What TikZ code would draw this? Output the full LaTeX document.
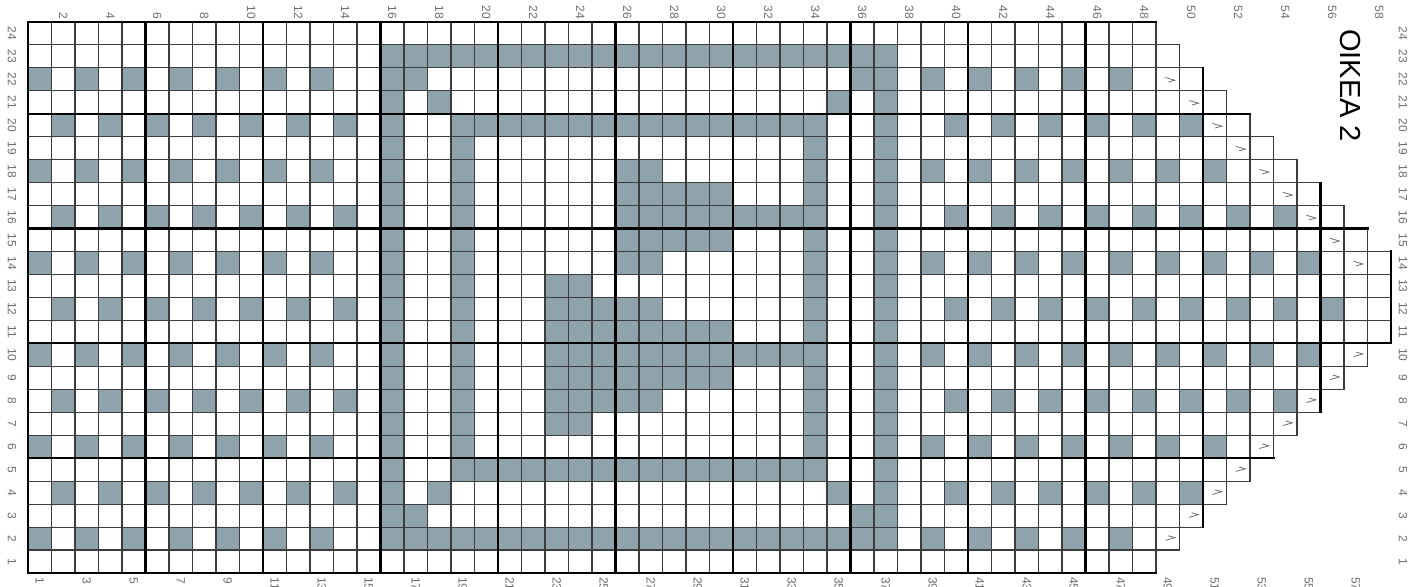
\documentclass[tikz,border=0pt]{standalone}
\usepackage{fontspec}
\setmainfont{Liberation Sans}
\usepackage{xcolor}
\usepackage{tikz}
\definecolor{knitGrey}{HTML}{8FA3AD}
\definecolor{knitLine}{HTML}{3C3C3C}
\definecolor{knitLabel}{HTML}{6E6E6E}

\begin{document}
\begin{tikzpicture}[x=11.75pt, y=11.48pt, font=\fontsize{6}{7}\selectfont,
  cell/.style={draw=knitLine,line width=0.55pt},
  knit/.style={fill=knitGrey},
  thickline/.style={line width=1.1pt,line cap=rect},
  lab/.style={text=knitLabel,inner sep=0pt,rotate=-90},
  decmark/.style={draw=knitLabel,line width=0.4pt}]
\useasboundingbox (-1.1915,-0.6098) rectangle (58.809,24.956);
\foreach \r in {2,6,...,22} \foreach \c in {1,3,...,13} \fill[knit] (\c-1,\r-1) rectangle (\c,\r);
\foreach \r in {4,8,...,20} \foreach \c in {2,4,...,14} \fill[knit] (\c-1,\r-1) rectangle (\c,\r);
\foreach \r/\e in {2/47,6/51,10/55,14/55,18/51,22/47}
  \foreach \c in {39,41,...,\e} \fill[knit] (\c-1,\r-1) rectangle (\c,\r);
\foreach \r/\e in {4/50,8/54,12/56,16/54,20/50}
  \foreach \c in {40,42,...,\e} \fill[knit] (\c-1,\r-1) rectangle (\c,\r);
\foreach \r/\cl in {23/{16,...,37}, 22/{16,17,36,37}, 21/{16,18,35,37},
    20/{16,19,20,...,34,37}, 19/{16,19,34,37}, 18/{16,19,26,27,34,37},
    17/{16,19,26,27,...,30,34,37}, 16/{16,19,26,27,...,34,37},
    15/{16,19,26,27,...,30,34,37}, 14/{16,19,26,27,34,37},
    13/{16,19,23,24,34,37}, 12/{16,19,23,24,...,27,34,37},
    11/{16,19,23,24,...,30,34,37}, 10/{16,19,23,24,...,34,37},
    9/{16,19,23,24,...,30,34,37}, 8/{16,19,23,24,...,27,34,37},
    7/{16,19,23,24,34,37}, 6/{16,19,34,37}, 5/{16,19,20,...,34,37},
    4/{16,18,35,37}, 3/{16,17,36,37}, 2/{16,...,37}}
  \foreach \c in \cl \fill[knit] (\c-1,\r-1) rectangle (\c,\r);
\foreach \r/\L in {1/48,2/49,3/50,4/51,5/52,6/53,7/54,8/55,9/56,10/57,11/58,12/58,
    13/58,14/58,15/57,16/56,17/55,18/54,19/53,20/52,21/51,22/50,23/49,24/48}
  \foreach \c in {1,...,\L} \draw[cell] (\c-1,\r-1) rectangle (\c,\r);
\foreach \y/\L in {0/48,5/53,10/58,15/57,20/52,24/48} \draw[thickline] (0,\y) -- (\L,\y);
\foreach \x in {0,5,...,45} \draw[thickline] (\x,0) -- (\x,24);
\draw[thickline] (50,2) -- (50,22);
\draw[thickline] (55,7) -- (55,17);
\draw[thickline] (58,10) -- (58,14);
\foreach \r/\c in {14/57,15/56,16/55,17/54,18/53,19/52,20/51,21/50,22/49}
  \draw[decmark] (\c-0.6,\r-0.42) -- (\c-0.2,\r-0.54) -- (\c-0.48,\r-0.62);
\foreach \r/\c in {2/49,3/50,4/51,5/52,6/53,7/54,8/55,9/56,10/57}
  \draw[decmark] (\c-0.48,\r-0.38) -- (\c-0.2,\r-0.46) -- (\c-0.6,\r-0.58);
\foreach \c in {2,4,...,58} \node[lab,anchor=east] (top\c) at (\c-0.5,24.12) {\c};
\foreach \c in {1,3,...,57} \node[lab,anchor=west] (bot\c) at (\c-0.5,-0.17) {\c};
\foreach \r in {1,...,24} {
  \node[lab] (lft\r) at (-0.68,\r-0.5) {\r};
  \node[lab] (rgt\r) at (58.51,\r-0.5) {\r};
}
\node[rotate=-90,font=\fontsize{14.5}{16}\selectfont] (title) at (56.26,21.23) {OIKEA 2};
\end{tikzpicture}
\end{document}
